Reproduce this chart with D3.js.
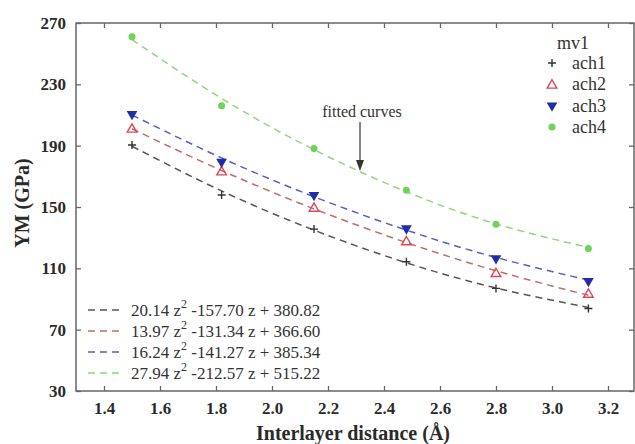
<!DOCTYPE html>
<html>
<head>
<meta charset="utf-8">
<script src="https://cdn.jsdelivr.net/npm/d3@7"></script>
<style>
  body { margin: 0; background: #fff; }
  svg text { font-family: "Liberation Serif", "Times New Roman", Times, "DejaVu Serif", serif; }
</style>
</head>
<body>
<div id="chart"></div>
<script>
// data
var distances = [1.50, 1.82, 2.15, 2.48, 2.80, 3.13];
var seriesNames = ["ach1", "ach2", "ach3", "ach4"];
var ach1 = [190.4, 157.8, 135.6, 114.3, 96.9, 83.8];
var ach2 = [201.3, 173.4, 149.7, 127.8, 107.1, 93.6];
var ach3 = [210.6, 179.5, 157.8, 136.0, 116.5, 101.7];
var ach4 = [261.1, 216.1, 188.2, 161.0, 138.8, 123.0];
// dashed fitted curves, values read at the same distances
var fit1 = [189.6, 160.5, 134.9, 113.6, 97.2, 84.5];
var fit2 = [201.0, 173.8, 148.8, 126.8, 108.4, 92.4];
var fit3 = [210.0, 182.0, 156.7, 134.9, 117.1, 102.3];
var fit4 = [259.2, 220.8, 187.4, 159.9, 139.0, 123.6];
var fitLabels = [
  ["20.14 z", "-157.70 z + 380.82"],
  ["13.97 z", "-131.34 z + 366.60"],
  ["16.24 z", "-141.27 z + 385.34"],
  ["27.94 z", "-212.57 z + 515.22"]
];
var xTicks = [1.4, 1.6, 1.8, 2.0, 2.2, 2.4, 2.6, 2.8, 3.0, 3.2];
var yTicks = [30, 70, 110, 150, 190, 230, 270];

var svgWidth = 635, svgHeight = 444;
var plot = { left: 76, right: 634, top: 23, bottom: 391 };
var serif = "'Liberation Serif', 'Times New Roman', Times, 'DejaVu Serif', serif";

var pointColors = ["#333333", "#d9475a", "#1f2ea8", "#6fd35a"];
var lineColors = ["#555555", "#c46a6a", "#5a5ac8", "#8fd77a"];

var svg = d3.select("#chart").append("svg")
  .attr("width", svgWidth)
  .attr("height", svgHeight);

var xScale = d3.scaleLinear().domain([1.3, 3.3]).range([76, 636]);
var yScale = d3.scaleLinear().domain([30, 270]).range([plot.bottom, plot.top]);

var frameColor = "#666";

// frame
svg.append("rect")
  .attr("x", plot.left).attr("y", plot.top)
  .attr("width", plot.right - plot.left).attr("height", plot.bottom - plot.top)
  .attr("fill", "none").attr("stroke", frameColor).attr("stroke-width", 1.5);

// axes, ticks pointing inward
var xAxisBottom = svg.append("g")
  .attr("transform", `translate(0, ${plot.bottom})`)
  .call(d3.axisBottom(xScale).tickValues(xTicks).tickSize(-5).tickPadding(11)
    .tickFormat(d3.format(".1f")));
var xAxisTop = svg.append("g")
  .attr("transform", `translate(0, ${plot.top})`)
  .call(d3.axisTop(xScale).tickValues(xTicks).tickSize(-5).tickFormat(""));
var yAxisLeft = svg.append("g")
  .attr("transform", `translate(${plot.left}, 0)`)
  .call(d3.axisLeft(yScale).tickValues(yTicks).tickSize(-5).tickPadding(10));
var yAxisRight = svg.append("g")
  .attr("transform", `translate(${plot.right}, 0)`)
  .call(d3.axisRight(yScale).tickValues(yTicks).tickSize(-5).tickFormat(""));

svg.selectAll(".domain").remove();
svg.selectAll(".tick line").attr("stroke", frameColor).attr("stroke-width", 1.3);
svg.selectAll(".tick text")
  .attr("fill", "#2a2a2a")
  .style("font-size", "17px")
  .style("font-weight", "bold")
  .style("font-family", serif);

// axis titles
svg.append("text")
  .attr("transform", `translate(29, 203) rotate(-90)`)
  .attr("text-anchor", "middle")
  .attr("fill", "#2a2a2a")
  .style("font-family", serif)
  .style("font-size", "20px").style("font-weight", "bold")
  .text("YM (GPa)");
svg.append("text")
  .attr("x", 353).attr("y", 440)
  .attr("text-anchor", "middle")
  .attr("fill", "#2a2a2a")
  .style("font-family", serif)
  .style("font-size", "20px").style("font-weight", "bold")
  .text("Interlayer distance (\u00C5)");

// fitted curves
var allPoints = [ach1, ach2, ach3, ach4];
var allFits = [fit1, fit2, fit3, fit4];
var line = d3.line()
  .x(d => xScale(d[0]))
  .y(d => yScale(d[1]))
  .curve(d3.curveNatural);

allFits.forEach(function(fit, i) {
  svg.append("path")
    .datum(distances.map((x, j) => [x, fit[j]]))
    .attr("d", line)
    .attr("fill", "none")
    .attr("stroke", lineColors[i])
    .attr("stroke-width", 1.5)
    .attr("stroke-dasharray", "7,5");
});

// markers
function drawMarker(g, i, x, y) {
  if (i === 0) {
    g.append("path").attr("d", `M${x - 4},${y}H${x + 4}M${x},${y - 4}V${y + 4}`)
      .attr("stroke", pointColors[0]).attr("stroke-width", 1.4);
  } else if (i === 1) {
    g.append("path").attr("d", d3.symbol().type(d3.symbolTriangle).size(40)())
      .attr("transform", `translate(${x},${y + 1})`)
      .attr("fill", "none").attr("stroke", pointColors[1]).attr("stroke-width", 1.4);
  } else if (i === 2) {
    g.append("path").attr("d", d3.symbol().type(d3.symbolTriangle).size(50)())
      .attr("transform", `translate(${x},${y}) rotate(180)`)
      .attr("fill", pointColors[2]);
  } else {
    g.append("circle").attr("cx", x).attr("cy", y).attr("r", 3.5)
      .attr("fill", pointColors[3]);
  }
}

var markerGroup = svg.append("g");
allPoints.forEach(function(vals, i) {
  vals.forEach(function(v, j) {
    drawMarker(markerGroup, i, xScale(distances[j]), yScale(v));
  });
});

// top-right legend
var legend = svg.append("g");
legend.append("text")
  .attr("x", 557).attr("y", 49)
  .attr("fill", "#333").style("font-size", "18px").style("font-family", serif)
  .text("mv1");
seriesNames.forEach(function(name, i) {
  var y = 63 + i * 21.3;
  drawMarker(legend, i, 552, y);
  legend.append("text")
    .attr("x", 572).attr("y", y + 6)
    .attr("fill", "#333").style("font-size", "18px").style("font-family", serif)
    .text(name);
});

// bottom-left legend with the fit equations
var fitLegend = svg.append("g");
fitLabels.forEach(function(parts, i) {
  var y = 310 + i * 21;
  fitLegend.append("line")
    .attr("x1", 88).attr("x2", 121).attr("y1", y).attr("y2", y)
    .attr("stroke", lineColors[i]).attr("stroke-width", 1.3)
    .attr("stroke-dasharray", "7,5");
  var t = fitLegend.append("text")
    .attr("x", 131).attr("y", y + 6)
    .attr("fill", "#333").style("font-size", "17px").style("font-family", serif);
  t.append("tspan").text(parts[0]);
  t.append("tspan").attr("dy", -8).style("font-size", "12px").text("2");
  t.append("tspan").attr("dy", 8).text(" " + parts[1]);
});

// annotation
svg.append("text")
  .attr("x", 362).attr("y", 117)
  .attr("text-anchor", "middle")
  .attr("fill", "#333").style("font-size", "16px").style("font-family", serif)
  .text("fitted curves");
svg.append("line")
  .attr("x1", 360).attr("x2", 360).attr("y1", 122).attr("y2", 162)
  .attr("stroke", "#333").attr("stroke-width", 1.2);
svg.append("path")
  .attr("d", "M356,160L364,160L360,171Z")
  .attr("fill", "#333");
</script>
</body>
</html>
